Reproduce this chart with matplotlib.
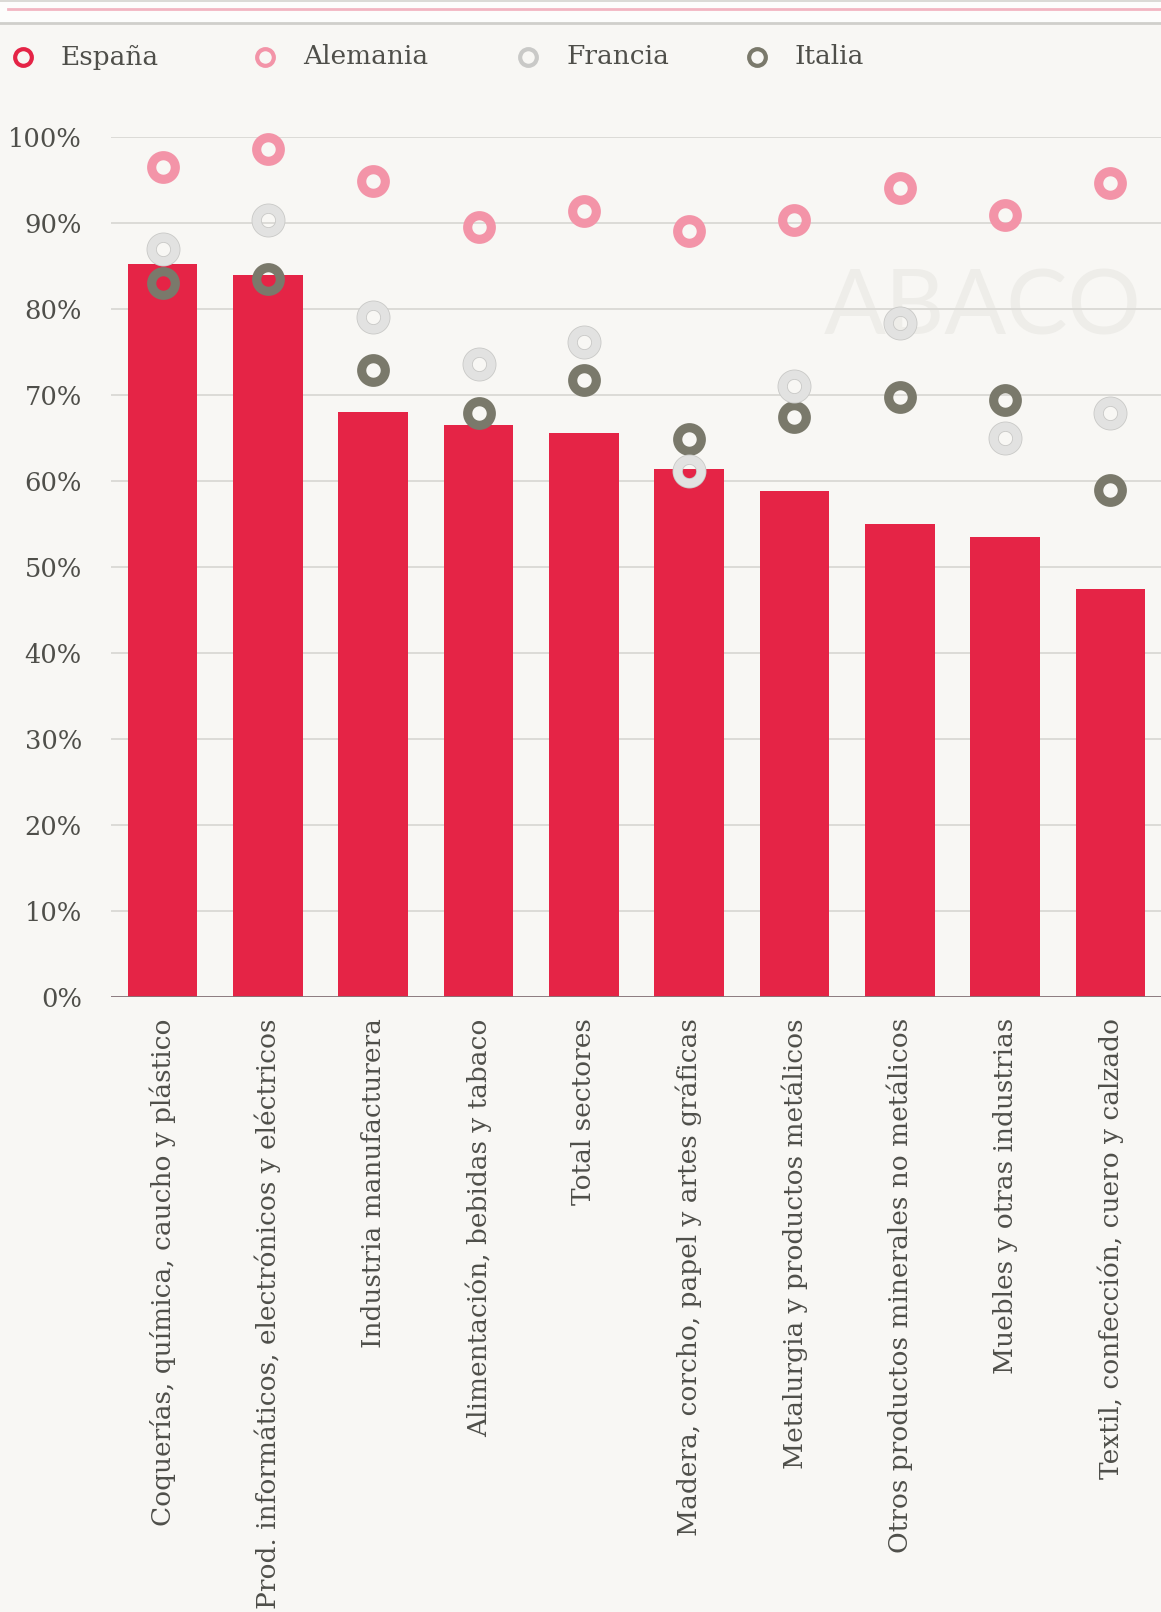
import matplotlib
matplotlib.use("Agg")
import matplotlib.pyplot as plt
from matplotlib.lines import Line2D

# sectores y porcentajes
sectores = [
    "Coquerías, química, caucho y plástico",
    "Prod. informáticos, electrónicos y eléctricos",
    "Industria manufacturera",
    "Alimentación, bebidas y tabaco",
    "Total sectores",
    "Madera, corcho, papel y artes gráficas",
    "Metalurgia y productos metálicos",
    "Otros productos minerales no metálicos",
    "Muebles y otras industrias",
    "Textil, confección, cuero y calzado",
]
espana = [85.2, 83.9, 68.0, 66.5, 65.6, 61.4, 58.8, 55.0, 53.5, 47.4]
alemania = [96.5, 98.6, 94.9, 89.5, 91.4, 89.0, 90.3, 94.0, 90.9, 94.6]
francia = [87.0, 90.3, 79.0, 73.6, 76.1, 61.2, 71.0, 78.3, 65.0, 67.9]
italia = [83.0, 83.5, 72.9, 67.9, 71.7, 64.9, 67.4, 69.8, 69.4, 59.0]
ticks_y = [0, 10, 20, 30, 40, 50, 60, 70, 80, 90, 100]

FONDO = "#f8f7f4"
ROJO = "#e52446"
ROSA = "#f394a8"
GRIS_CLARO = "#e2e2e1"
GRIS_BORDE = "#c9c9c7"
GRIS_OSC = "#7a796b"
TEXTO = "#4f4f4a"

plt.rcParams["font.family"] = ["DejaVu Serif"]

fig = plt.figure(figsize=(11.61, 16.12), dpi=100, facecolor=FONDO)
ax = fig.add_axes([0.0956, 0.3813, 0.9044, 0.5339])
ax.set_facecolor(FONDO)

x = list(range(len(sectores)))
ax.bar(x, espana, width=0.66, color=ROJO, zorder=2)

# anillos con hueco transparente
anillo = dict(linestyle="none", marker="o", markersize=17, markerfacecolor="none",
              clip_on=False)
ax.plot(x, alemania, markeredgecolor=ROSA, markeredgewidth=6.6, zorder=3, **anillo)
ax.plot(x, italia, markeredgecolor=GRIS_OSC, markeredgewidth=6.6, zorder=4, **anillo)
ax.plot(x, francia, markeredgecolor=GRIS_BORDE, markeredgewidth=7.4, zorder=5, **anillo)
ax.plot(x, francia, markeredgecolor=GRIS_CLARO, markeredgewidth=6.2, zorder=6, **anillo)

ax.set_xlim(-0.49, 9.48)
ax.set_ylim(0, 100)
ax.set_yticks(ticks_y)
ax.set_yticklabels([f"{t}%" for t in ticks_y])
ax.set_xticks(x)
ax.set_xticklabels(sectores, rotation=90, ha="center", va="top")
ax.tick_params(axis="y", length=0, pad=21, labelsize=18.5, labelcolor=TEXTO)
ax.tick_params(axis="x", length=0, pad=15, labelsize=19, labelcolor=TEXTO)

ax.set_axisbelow(True)
ax.grid(axis="y", color="#dcdbd7", linewidth=1.4)
ax.grid(axis="x", visible=False)
for s in ax.spines.values():
    s.set_visible(False)
ax.axhline(0, color="#857378", linewidth=2, zorder=3)

# marca de agua
ax.text(0.981, 0.80, "ABACO", transform=ax.transAxes, ha="right", va="center",
        fontsize=66, family="Lato", color="#eeede9", zorder=0.4)

# cabecera: banda blanca con filete rosa
fig.patches.append(plt.Rectangle((0, 1 - 23 / 1612), 1, 21 / 1612, transform=fig.transFigure,
                                 facecolor="#fdfdfc", edgecolor="none"))
fig.add_artist(Line2D([0, 1], [1 - 1 / 1612] * 2, color="#d6d5d1", linewidth=1.2))
fig.add_artist(Line2D([8 / 1161, 1], [1 - 9 / 1612] * 2, color="#f2b6c2", linewidth=2))
fig.add_artist(Line2D([0, 1], [1 - 23 / 1612] * 2, color="#d0cfcb", linewidth=2))

# leyenda
paises = ["España", "Alemania", "Francia", "Italia"]
colores_leyenda = [ROJO, ROSA, GRIS_CLARO, GRIS_OSC]
pos_leyenda = [23, 265, 528, 757]
y_ley = 1 - 57 / 1612
for nombre, col, px in zip(paises, colores_leyenda, pos_leyenda):
    borde = GRIS_BORDE if col == GRIS_CLARO else col
    fig.add_artist(Line2D([px / 1161], [y_ley], marker="o", markersize=12,
                          markerfacecolor="none", markeredgecolor=borde, markeredgewidth=3))
    fig.text((px + 38) / 1161, y_ley, nombre, fontsize=19, color=TEXTO, ha="left", va="center")

fig.savefig("out.png", dpi=100, facecolor=FONDO)
